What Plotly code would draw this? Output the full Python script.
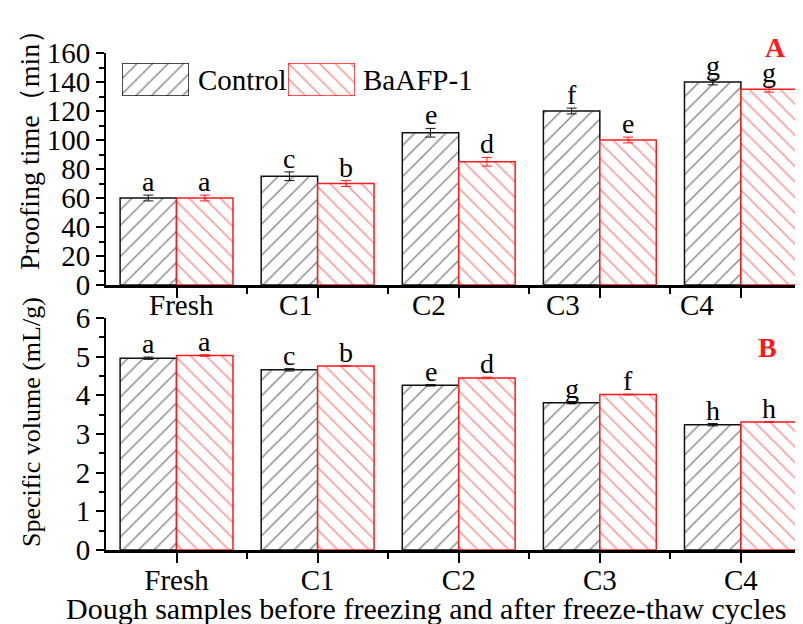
import plotly.graph_objects as go

categories = ["Fresh", "C1", "C2", "C3", "C4"]
series_names = ["Control", "BaAFP-1"]

proof_control = [60, 75, 105, 120, 140]
proof_control_err = [2, 3, 3, 2, 2]
proof_afp = [60, 70, 85, 100, 135]
proof_afp_err = [2, 2, 3, 2, 2]
proof_letters_control = ["a", "c", "e", "f", "g"]
proof_letters_afp = ["a", "b", "d", "e", "g"]

vol_control = [4.96, 4.66, 4.26, 3.81, 3.24]
vol_control_err = [0.03, 0.03, 0.02, 0.03, 0.03]
vol_afp = [5.03, 4.76, 4.45, 4.02, 3.31]
vol_afp_err = [0.02, 0.01, 0.02, 0.01, 0.01]
vol_letters_control = ["a", "c", "e", "g", "h"]
vol_letters_afp = ["a", "b", "d", "f", "h"]

FONT = "Liberation Serif, Times New Roman, serif"
BLACK = "#111111"
RED = "#ff1a1a"
xidx = list(range(len(categories)))

# page has an 8px body margin: figure is 795x616, placed at (8, 8) in the window
W, H, OFF = 795, 616, 8


def px(x):
    return (x - OFF) / W


def py(y):
    return (OFF + H - y) / H


fig = go.Figure()


def add_bars(vals, errs, name, color, shape, xa, ya):
    fig.add_trace(go.Bar(
        x=xidx, y=vals, name=name, xaxis=xa, yaxis=ya, showlegend=False,
        offsetgroup=name,
        marker=dict(color="white",
                    line=dict(color=color, width=1.5),
                    pattern=dict(shape=shape, fgcolor=color, bgcolor="white",
                                 size=11, solidity=0.13, fillmode="overlay")),
        error_y=dict(type="data", array=errs, color=color, thickness=1, width=5),
    ))


add_bars(proof_control, proof_control_err, series_names[0], BLACK, "/", "x", "y")
add_bars(proof_afp, proof_afp_err, series_names[1], RED, "\\", "x", "y")
add_bars(vol_control, vol_control_err, series_names[0], BLACK, "/", "x2", "y2")
add_bars(vol_afp, vol_afp_err, series_names[1], RED, "\\", "x2", "y2")

# legend swatches drawn as bars on tiny helper axes
for k, (name, color, shape) in enumerate([(series_names[0], BLACK, "/"), (series_names[1], RED, "\\")]):
    fig.add_trace(go.Bar(
        x=[0], y=[1], width=[1], xaxis=f"x{k+3}", yaxis=f"y{k+3}", showlegend=False,
        marker=dict(color="white", line=dict(color=color, width=1.5),
                    pattern=dict(shape=shape, fgcolor=color, bgcolor="white",
                                 size=11, solidity=0.13, fillmode="overlay")),
        hoverinfo="skip",
    ))

ann = []
# significance letters
for vals, errs, letters, off, xr, yr in [
    (proof_control, proof_control_err, proof_letters_control, -0.2, "x", "y"),
    (proof_afp, proof_afp_err, proof_letters_afp, 0.2, "x", "y"),
    (vol_control, vol_control_err, vol_letters_control, -0.2, "x2", "y2"),
    (vol_afp, vol_afp_err, vol_letters_afp, 0.2, "x2", "y2"),
]:
    for i, (v, e, l) in enumerate(zip(vals, errs, letters)):
        ann.append(dict(x=i + off, y=v + e, xref=xr, yref=yr, text=l, showarrow=False,
                        xanchor="center", yanchor="bottom", yshift=-4,
                        font=dict(family=FONT, size=28, color="black")))

# top panel category labels (shifted as in original)
top_label_shift = [5, -22, -30, -37, -44]
for i, c in enumerate(categories):
    ann.append(dict(x=i, y=py(305), xref="x", yref="paper", text=c, showarrow=False,
                    xshift=top_label_shift[i], xanchor="center", yanchor="middle",
                    font=dict(family=FONT, size=29, color="black")))

# legend labels
ann.append(dict(x=px(196), y=py(80), xref="paper", yref="paper", text=series_names[0],
                showarrow=False, xanchor="left", yanchor="middle",
                font=dict(family=FONT, size=29, color="black")))
ann.append(dict(x=px(361), y=py(80), xref="paper", yref="paper", text=series_names[1],
                showarrow=False, xanchor="left", yanchor="middle",
                font=dict(family=FONT, size=29, color="black")))
# panel letters
ann.append(dict(x=px(775), y=py(47), xref="paper", yref="paper", text="<b>A</b>",
                showarrow=False, xanchor="center", yanchor="middle",
                font=dict(family=FONT, size=28, color=RED)))
ann.append(dict(x=px(767), y=py(347), xref="paper", yref="paper", text="<b>B</b>",
                showarrow=False, xanchor="center", yanchor="middle",
                font=dict(family=FONT, size=28, color=RED)))
# axis titles
ann.append(dict(x=px(30), y=py(143), xref="paper", yref="paper", text="Proofing time（min）",
                showarrow=False, xanchor="center", yanchor="middle", textangle=-90,
                font=dict(family=FONT, size=28, color="black")))
ann.append(dict(x=px(31), y=py(422), xref="paper", yref="paper", text="Specific volume (mL/g)",
                showarrow=False, xanchor="center", yanchor="middle", textangle=-90,
                font=dict(family=FONT, size=26, color="black")))
ann.append(dict(x=px(426), y=py(608), xref="paper", yref="paper",
                text="Dough samples before freezing and after freeze-thaw cycles",
                showarrow=False, xanchor="center", yanchor="middle",
                font=dict(family=FONT, size=30, color="black")))

xdom = [px(106), 1.0]
xaxis_common = dict(
    range=[-0.5, 4.44], showline=True, linecolor="black", linewidth=2.5,
    ticks="outside", ticklen=10, tickwidth=1.5, tickcolor="black",
    tickvals=xidx, showgrid=False, zeroline=False, automargin=False,
    minor=dict(tickvals=[0.5, 1.5, 2.5, 3.5], ticklen=6, tickwidth=1.5, tickcolor="black", ticks="outside"),
    domain=xdom,
)

yaxis_common = dict(
    showline=True, linecolor="black", linewidth=2, automargin=False,
    ticks="outside", ticklen=8, tickwidth=1.5, tickcolor="black",
    showgrid=False, zeroline=False, tickfont=dict(family=FONT, size=29),
)

fig.update_layout(
    width=W, height=H,
    margin=dict(l=0, r=0, t=0, b=0),
    paper_bgcolor="white", plot_bgcolor="white",
    barmode="group", bargap=0.2, bargroupgap=0,
    showlegend=False,
    font=dict(family=FONT, color="black"),
    xaxis=dict(**xaxis_common, anchor="y", showticklabels=False),
    yaxis=dict(**yaxis_common, domain=[py(285), py(53)], range=[0, 160], anchor="x", dtick=20,
               minor=dict(dtick=10, ticklen=5, tickwidth=1.5, tickcolor="black", ticks="outside")),
    xaxis2=dict(**xaxis_common, anchor="y2", ticktext=categories, ticklabelstandoff=-8,
                tickfont=dict(family=FONT, size=29)),
    yaxis2=dict(**yaxis_common, domain=[py(550), py(318)], range=[0, 6], anchor="x2", dtick=1,
                minor=dict(dtick=0.5, ticklen=5, tickwidth=1.5, tickcolor="black", ticks="outside")),
    xaxis3=dict(domain=[px(122), px(189)], range=[-0.5, 0.5], visible=False, anchor="y3"),
    yaxis3=dict(domain=[py(96), py(63)], range=[0, 1], visible=False, anchor="x3"),
    xaxis4=dict(domain=[px(288), px(355)], range=[-0.5, 0.5], visible=False, anchor="y4"),
    yaxis4=dict(domain=[py(96), py(63)], range=[0, 1], visible=False, anchor="x4"),
    annotations=ann,
)

fig.write_html("out.html")
